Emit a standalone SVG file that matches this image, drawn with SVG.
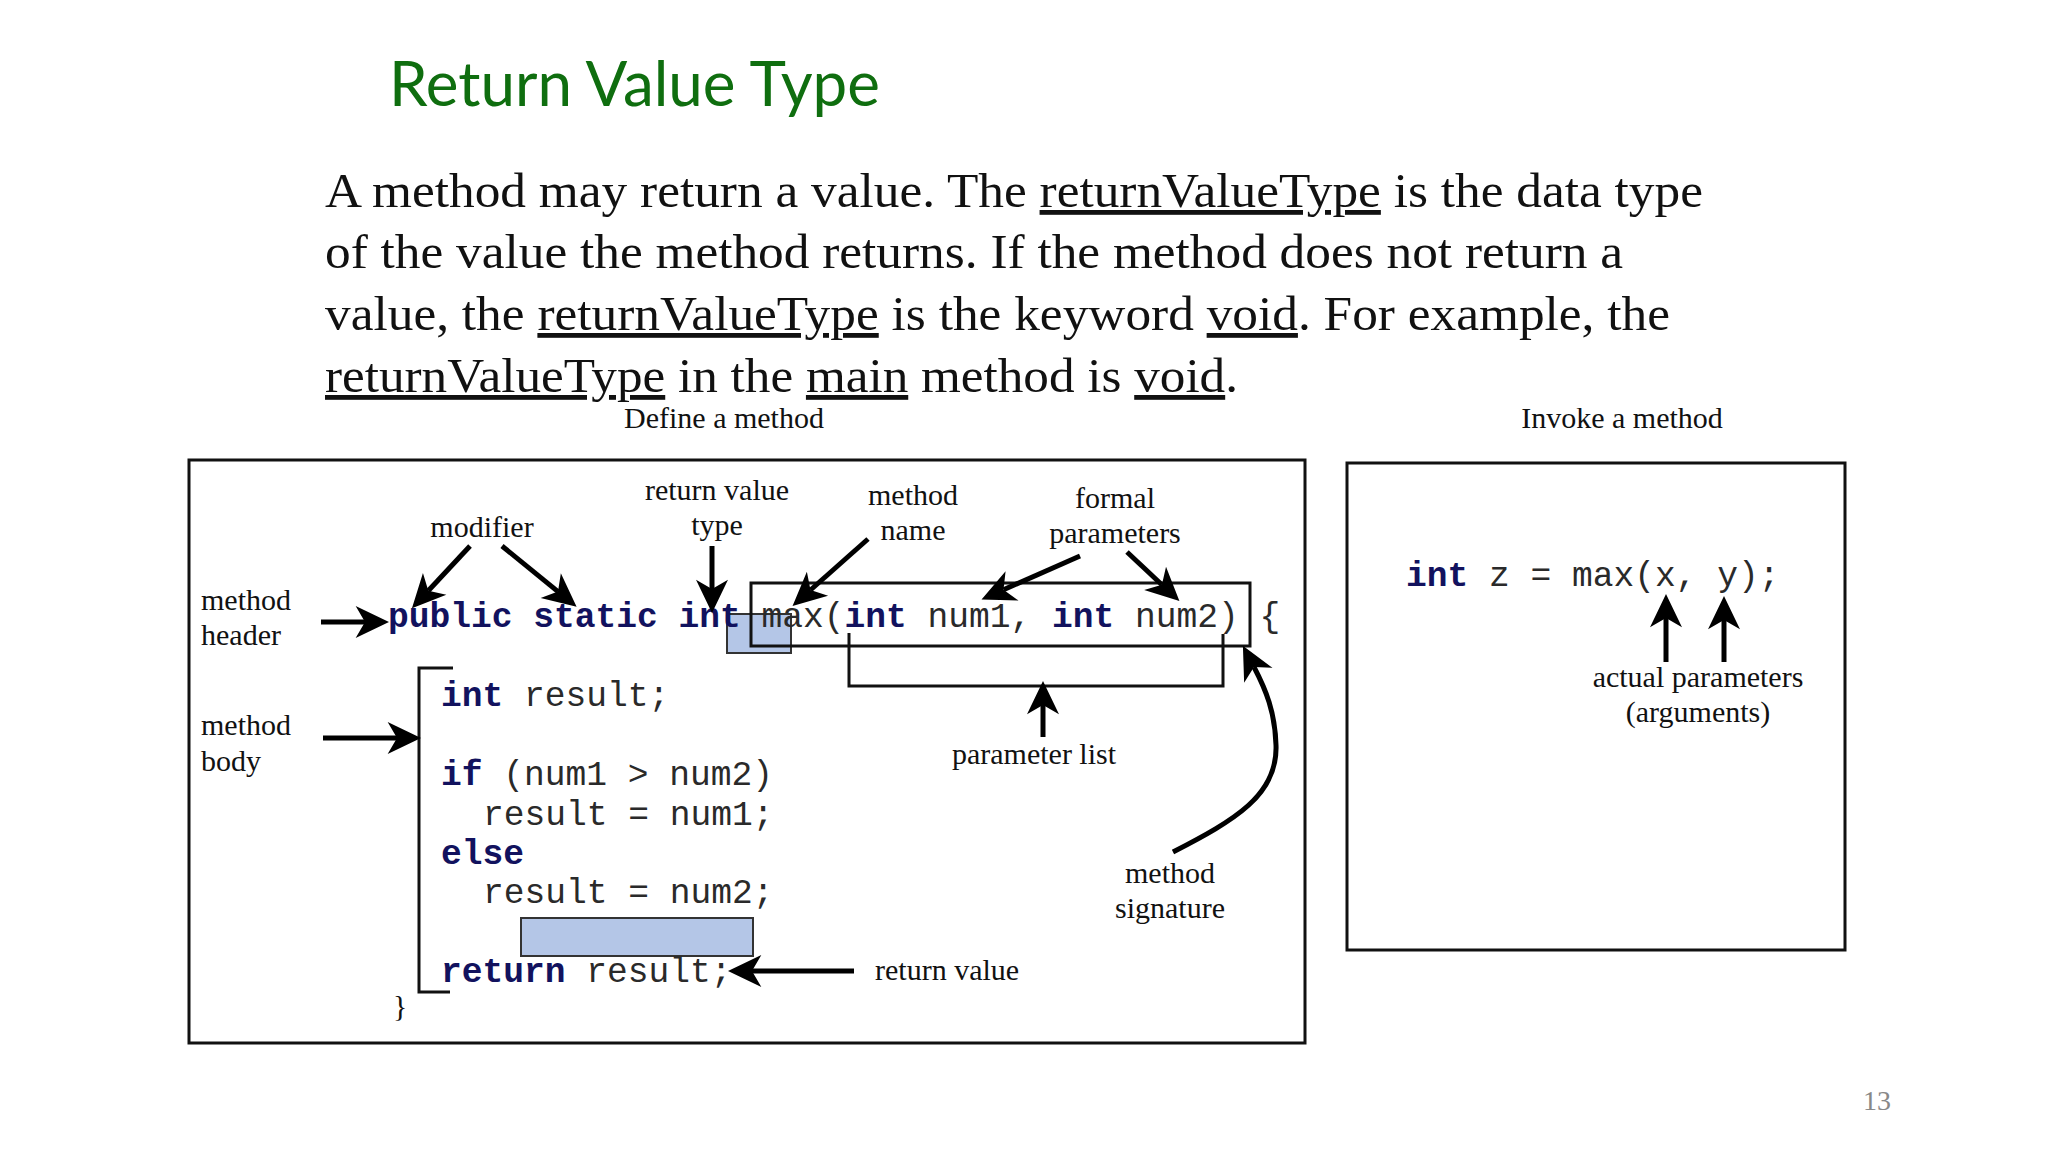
<svg xmlns="http://www.w3.org/2000/svg" width="2048" height="1152" viewBox="0 0 2048 1152">
<defs>
<style>
.lbl{font-family:"Liberation Serif","Times New Roman",serif;font-size:30px;fill:#111}
.para{font-family:"Liberation Serif","Times New Roman",serif;font-size:48px;fill:#111}
.u{text-decoration:underline}
.code{font-family:"Liberation Mono","Courier New",monospace;font-size:34.6px;fill:#2a2a2a}
.kw{font-weight:bold;fill:#12125e}
.box{fill:none;stroke:#111;stroke-width:3}
.hl{fill:#b4c6e7;stroke:#333;stroke-width:2}
.arr{fill:none;stroke:#000;stroke-width:5;marker-end:url(#ah)}
.thin{fill:none;stroke:#111;stroke-width:3}
</style>
<marker id="ah" markerUnits="userSpaceOnUse" markerWidth="40" markerHeight="40" viewBox="-10 -15 30 30" refX="0" refY="0" orient="auto">
<path d="M18,0 L-7,-12 L0,0 L-7,12 Z" fill="#000"/>
</marker>
</defs>
<rect width="2048" height="1152" fill="#fff"/>

<g id="title">
<text x="389" y="106" font-family="Lato,'Open Sans',sans-serif" font-size="61" fill="#0f6e0f" textLength="491" lengthAdjust="spacingAndGlyphs">Return Value Type</text>
</g>

<g id="paragraph">
<text class="para" x="325" y="207" textLength="1378" lengthAdjust="spacingAndGlyphs">A method may return a value. The <tspan class="u">returnValueType</tspan> is the data type</text>
<text class="para" x="325" y="268" textLength="1298" lengthAdjust="spacingAndGlyphs">of the value the method returns. If the method does not return a</text>
<text class="para" x="325" y="330" textLength="1345" lengthAdjust="spacingAndGlyphs">value, the <tspan class="u">returnValueType</tspan> is the keyword <tspan class="u">void</tspan>. For example, the</text>
<text class="para" x="325" y="392" textLength="913" lengthAdjust="spacingAndGlyphs"><tspan class="u">returnValueType</tspan> in the <tspan class="u">main</tspan> method is <tspan class="u">void</tspan>.</text>
</g>

<g id="define-caption"><text class="lbl" x="724" y="428" text-anchor="middle">Define a method</text></g>
<g id="invoke-caption"><text class="lbl" x="1622" y="428" text-anchor="middle">Invoke a method</text></g>

<g id="define-box"><rect class="box" x="189" y="460" width="1116" height="583"/></g>
<g id="invoke-box"><rect class="box" x="1347" y="463" width="498" height="487"/></g>

<g id="return-type-highlight"><rect class="hl" x="727" y="614" width="64" height="39"/></g>
<g id="return-value-highlight"><rect class="hl" x="521" y="918" width="232" height="38"/></g>

<g id="signature-box"><rect class="thin" x="751" y="583" width="499" height="63"/></g>
<g id="parameter-list-bracket"><path class="thin" d="M849,633 V686 H1223 V634"/></g>
<g id="body-bracket"><path class="thin" d="M453,668 H419 V992 H450"/></g>

<g id="header-code">
<text class="code" x="388" y="627"><tspan class="kw">public static int</tspan> max(<tspan class="kw">int</tspan> num1, <tspan class="kw">int</tspan> num2) {</text>
</g>

<g id="body-code">
<text class="code" x="441" y="706"><tspan class="kw">int</tspan> result;</text>
<text class="code" x="441" y="785"><tspan class="kw">if</tspan> (num1 &gt; num2)</text>
<text class="code" x="483" y="825">result = num1;</text>
<text class="code" x="441" y="864"><tspan class="kw">else</tspan></text>
<text class="code" x="483" y="903">result = num2;</text>
<text class="code" x="441" y="982"><tspan class="kw">return</tspan> result;</text>
<text class="lbl" x="393" y="1016">}</text>
</g>

<g id="invoke-code">
<text class="code" x="1406" y="586"><tspan class="kw">int</tspan> z = max(x, y);</text>
</g>

<g id="label-modifier"><text class="lbl" x="482" y="537" text-anchor="middle">modifier</text></g>
<g id="label-return-type"><text class="lbl" x="717" y="500" text-anchor="middle">return value</text><text class="lbl" x="717" y="535" text-anchor="middle">type</text></g>
<g id="label-method-name"><text class="lbl" x="913" y="505" text-anchor="middle">method</text><text class="lbl" x="913" y="540" text-anchor="middle">name</text></g>
<g id="label-formal-params"><text class="lbl" x="1115" y="508" text-anchor="middle">formal</text><text class="lbl" x="1115" y="543" text-anchor="middle">parameters</text></g>
<g id="label-method-header"><text class="lbl" x="201" y="610">method</text><text class="lbl" x="201" y="645">header</text></g>
<g id="label-method-body"><text class="lbl" x="201" y="735">method</text><text class="lbl" x="201" y="771">body</text></g>
<g id="label-parameter-list"><text class="lbl" x="1034" y="764" text-anchor="middle">parameter list</text></g>
<g id="label-method-signature"><text class="lbl" x="1170" y="883" text-anchor="middle">method</text><text class="lbl" x="1170" y="918" text-anchor="middle">signature</text></g>
<g id="label-return-value"><text class="lbl" x="875" y="980">return value</text></g>
<g id="label-actual-params"><text class="lbl" x="1698" y="687" text-anchor="middle">actual parameters</text><text class="lbl" x="1698" y="722" text-anchor="middle">(arguments)</text></g>

<g id="page-number"><text x="1877" y="1110" text-anchor="middle" font-family="'Liberation Serif',serif" font-size="28" fill="#888">13</text></g>

<g id="connectors">
<line class="arr" x1="321" y1="622" x2="365" y2="622"/>
<line class="arr" x1="323" y1="738" x2="397" y2="738"/>
<line class="arr" x1="470" y1="546" x2="428.3" y2="590.8"/>
<line class="arr" x1="502" y1="546" x2="558" y2="591.6"/>
<line class="arr" x1="712" y1="546" x2="712" y2="589"/>
<line class="arr" x1="868" y1="539" x2="810.5" y2="590"/>
<line class="arr" x1="1080" y1="556" x2="1003.5" y2="589.7"/>
<line class="arr" x1="1127" y1="552" x2="1161.9" y2="584.7"/>
<line class="arr" x1="1043" y1="737" x2="1043" y2="705"/>
<line class="arr" x1="854" y1="971" x2="752" y2="971"/>
<line class="arr" x1="1666" y1="662" x2="1666" y2="618"/>
<line class="arr" x1="1724" y1="662" x2="1724" y2="620"/>
<path class="arr" d="M1173,852 C1235,820 1278,795 1276,745 C1275,712 1266,690 1254,667"/>
</g>
</svg>
